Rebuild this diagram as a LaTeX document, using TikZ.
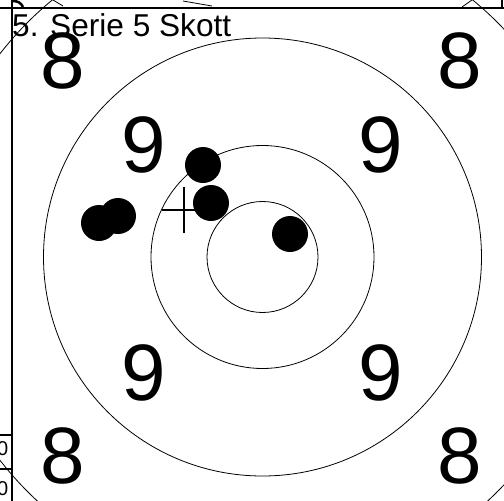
\documentclass[tikz,border=0pt]{standalone}
\usepackage{fontspec}
\setmainfont{Liberation Sans}
\begin{document}
\begin{tikzpicture}[x=1pt,y=-1pt,
  ring/.style={draw=black,line width=0.8pt},
  frame/.style={draw=black,line width=1.2pt},
  shot/.style={circle,fill=black,inner sep=0pt,minimum size=36pt},
  bignum/.style={inner sep=0pt,font=\fontsize{80}{80}\selectfont},
  tabnum/.style={inner sep=0pt,anchor=base east,font=\fontsize{20}{20}\selectfont}]
\useasboundingbox (0,0) rectangle (504,501);
\clip (0,0) rectangle (504,501);
\fill[white] (0,0) rectangle (504,501);
% target rings
\coordinate (c) at (262.5,257);
\draw[ring] (c) circle[radius=55.5];
\draw[ring] (c) circle[radius=111.5];
\draw[ring] (c) circle[radius=219];
\draw[ring] (c) circle[radius=332];
% ring numbers
\node[bignum] (n8a) at (63,61) {8};
\node[bignum] (n8b) at (460,61) {8};
\node[bignum] (n8c) at (63,456) {8};
\node[bignum] (n8d) at (460,456) {8};
\node[bignum] (n9a) at (144,145) {9};
\node[bignum] (n9b) at (381,145) {9};
\node[bignum] (n9c) at (144,373) {9};
\node[bignum] (n9d) at (381,373) {9};
% aim cross
\coordinate (xc) at (184,210);
\draw[line width=1.6pt] (162,210) -- (206,210);
\draw[line width=1.6pt] (184,187) -- (184,233);
% shots
\node[shot] (s1) at (203,165) {};
\node[shot] (s2) at (211,203) {};
\node[shot] (s3) at (99,223) {};
\node[shot] (s4) at (118,216) {};
\node[shot] (s5) at (290,234) {};
% frame lines of neighbouring panels
\draw[frame] (0,8) -- (504,8);
\draw[frame] (12,0) -- (12,501);
\draw[frame] (502,0) -- (502,8);
\draw[frame] (0,435) -- (12,435);
\draw[frame] (0,469) -- (12,469);
\node[tabnum] (t1) at (8.5,455) {0};
\node[tabnum] (t2) at (8.5,495) {0};
% fragments of the panel above
\draw[line width=2.5pt] (13,1) .. controls (18,1) and (21,3) .. (23,7);
\draw[ring] (53,0) -- (63,6);
\draw[ring] (183,1) -- (212,6);
\draw[ring] (462,7) -- (472,0);
% title
\node[anchor=base west,inner sep=0pt,font=\fontsize{31.6}{36}\selectfont] (title) at (12,36) {5. Serie 5 Skott};
\end{tikzpicture}
\end{document}
